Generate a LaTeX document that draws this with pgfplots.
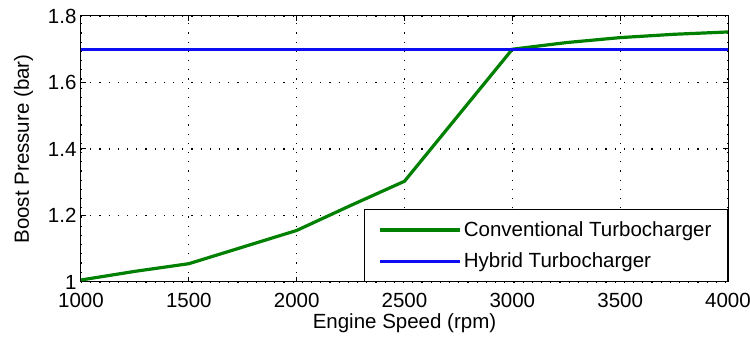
\documentclass[border=0pt]{standalone}
\usepackage{fontspec}
\setmainfont{Liberation Sans}
\usepackage{pgfplots}
\pgfplotsset{compat=1.18}
\definecolor{mgreen}{rgb}{0,0.5,0}
\definecolor{mblue}{rgb}{0.05,0.05,0.95}
\begin{document}
\begin{tikzpicture}
\begin{axis}[
  name=ax,
  scale only axis,
  width=647pt, height=266pt,
  xmin=1000, xmax=4000, ymin=1, ymax=1.8,
  xtick={1000,1500,...,4000},
  ytick={1,1.2,1.4,1.6,1.8},
  yticklabels={1,1.2,1.4,1.6,1.8},
  xticklabels={1000,1500,2000,2500,3000,3500,4000},
  tick align=inside,
  major tick length=5pt,
  tick style={black, line width=1pt},
  axis line style={black, line width=1pt},
  grid=major,
  grid style={black, line width=1.2pt, dash pattern=on 1.2pt off 8pt},
  tick label style={font=\fontsize{20.5}{23}\selectfont},
  xticklabel style={yshift=-7.5pt},
  yticklabel style={xshift=-1pt},
  label style={font=\fontsize{20.5}{23}\selectfont},
  xlabel={Engine Speed (rpm)},
  ylabel={Boost Pressure (bar)},
  xlabel style={yshift=0.5pt},
  ylabel style={yshift=8pt},
  legend style={at={(1,0)}, anchor=south east, draw=black, line width=1pt,
    font=\fontsize{20.5}{23}\selectfont, inner xsep=14pt, inner ysep=10pt,
    row sep=11pt, cells={anchor=west}},
  legend image code/.code={\draw[#1] (0pt,0pt) -- (80pt,0pt);},
]
\addplot[mgreen, line width=3.2pt] coordinates {
 (1000,1.006) (1250,1.032) (1500,1.055) (1750,1.105) (2000,1.155)
 (2250,1.23) (2500,1.303) (3000,1.70) (3250,1.72) (3500,1.735)
 (3750,1.745) (4000,1.752)};
\addlegendentry{Conventional Turbocharger}
\addplot[mblue, line width=2.6pt] coordinates {(1000,1.7) (4000,1.7)};
\addlegendentry{Hybrid Turbocharger}
\end{axis}
\pgfresetboundingbox
\path[use as bounding box] ([shift={(-81pt,-60pt)}]ax.south west) rectangle ([shift={(22pt,16pt)}]ax.north east);
\end{tikzpicture}
\end{document}
